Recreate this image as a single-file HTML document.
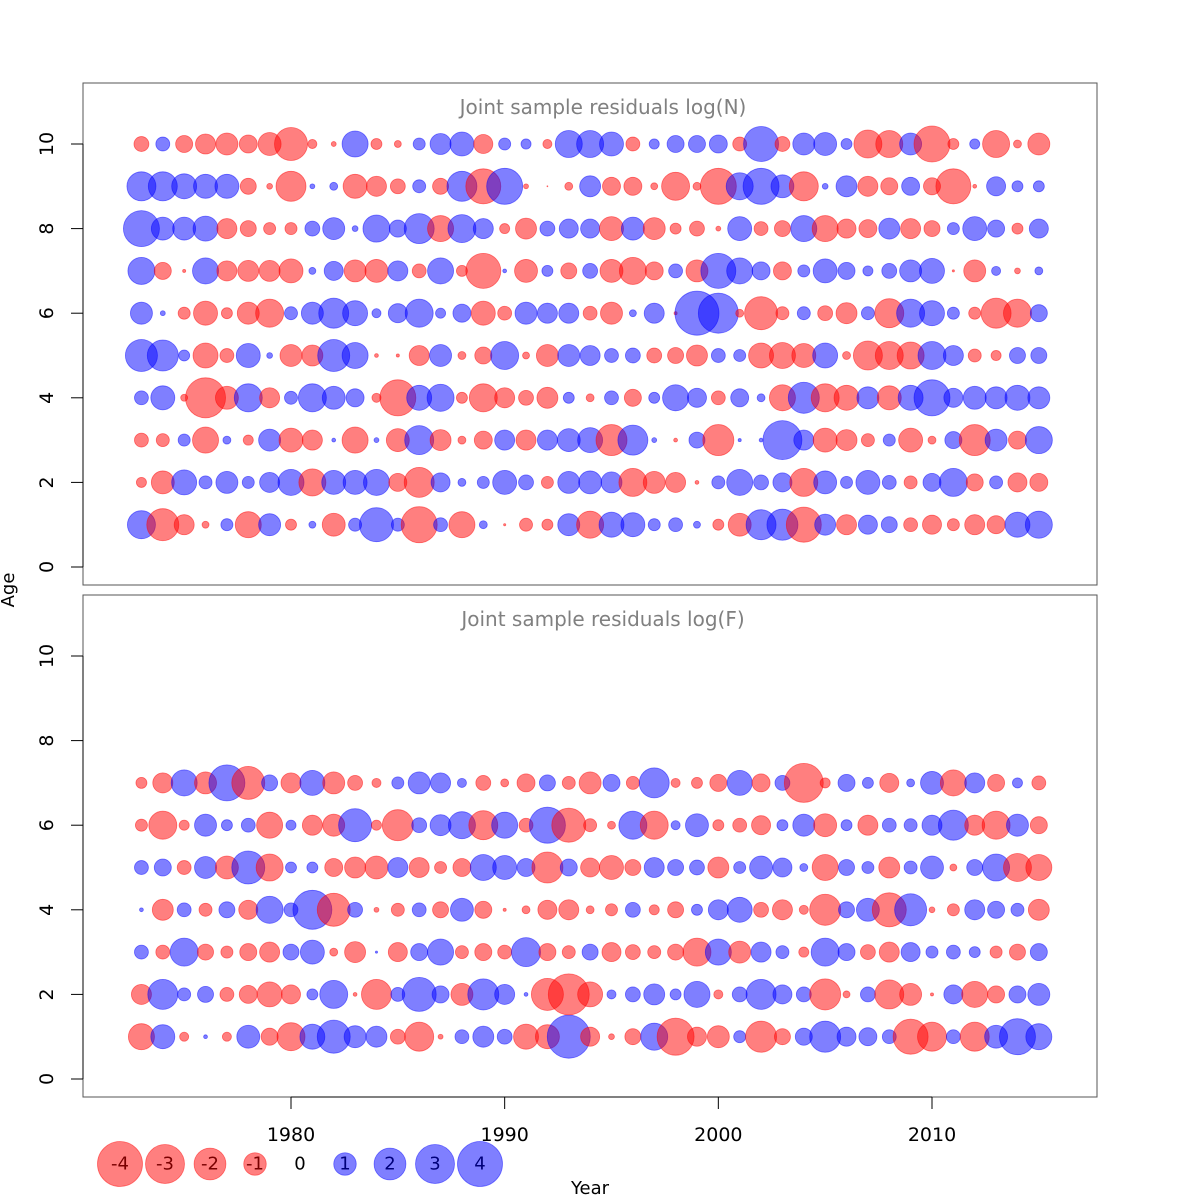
<!DOCTYPE html>
<html><head><meta charset="utf-8">
<style>
html,body{margin:0;padding:0;background:#fff;}
svg{display:block;font-family:"DejaVu Sans","Liberation Sans",sans-serif;}
</style></head>
<body>
<svg id="chart" width="1200" height="1200" viewBox="0 0 1200 1200" xmlns="http://www.w3.org/2000/svg">
  <rect x="0" y="0" width="1200" height="1200" fill="#fff"/>
  <rect x="83" y="83" width="1014" height="502" fill="none" stroke="#555" stroke-width="1"/>
  <rect x="83" y="595" width="1014" height="502" fill="none" stroke="#555" stroke-width="1"/>
  <text x="603" y="114" text-anchor="middle" font-size="20" fill="#808080">Joint sample residuals log(N)</text>
  <text x="603" y="626" text-anchor="middle" font-size="20" fill="#808080">Joint sample residuals log(F)</text>
  <text x="590" y="1194" text-anchor="middle" font-size="18">Year</text>
  <text x="14" y="590" text-anchor="middle" font-size="18" transform="rotate(-90 14 590)">Age</text>
  <g id="marks"></g>
  <g id="axes"></g>
  <g id="legend"></g>
</svg>
<script>
const years = [1973,1974,1975,1976,1977,1978,1979,1980,1981,1982,1983,1984,1985,1986,1987,1988,1989,1990,1991,1992,1993,1994,1995,1996,1997,1998,1999,2000,2001,2002,2003,2004,2005,2006,2007,2008,2009,2010,2011,2012,2013,2014,2015];
const xTicks = [1980,1990,2000,2010];
const yTicks = [0,2,4,6,8,10];
const legendValues = [-4,-3,-2,-1,0,1,2,3,4];

// log(N) residuals, per age (1973..2015)
const nAge1 = [1.62,-2.12,-0.83,-0.10,0.30,-1.40,1.0,-0.25,0.10,-1.09,0.35,2.39,0.35,-2.68,0.40,-1.40,0.13,-0.01,-0.35,-0.25,1.0,-1.51,1.29,1.19,0.30,0.40,0.10,-0.25,-1.09,1.86,1.99,-2.53,0.91,-0.83,0.75,0.53,-0.40,-0.75,-0.30,-0.83,-0.67,1.29,1.51];
const nAge2 = [-0.21,-1.09,1.29,0.35,1.0,0.30,0.83,1.40,-1.51,1.19,1.19,1.40,-0.67,-1.86,0.75,0.13,0.30,1.19,0.46,-0.30,1.0,1.09,0.91,-1.62,-1.0,-0.83,-0.03,0.35,1.40,0.46,0.75,-1.62,1.09,0.30,1.19,0.40,-0.35,0.67,1.62,-0.60,0.35,-0.75,-0.67];
const nAge3 = [-0.40,-0.35,0.30,-1.40,0.13,-0.21,1.0,-1.19,-0.83,0.03,-1.40,0.05,-1.09,1.74,-0.91,-0.13,-0.67,0.83,-0.83,0.83,1.09,1.29,-1.99,1.86,0.05,-0.03,0.53,-1.99,0.02,0.03,3.14,0.83,-1.19,-0.91,-0.35,0.30,-1.19,-0.13,0.60,-1.99,1.0,-0.67,1.51];
const nAge4 = [0.40,1.19,-0.10,-3.31,-1.09,1.62,-0.83,0.35,1.62,1.09,0.67,-0.17,-2.68,1.29,1.51,-0.25,-1.62,-0.83,-0.46,-0.91,0.25,-0.13,0.40,-0.60,0.25,1.40,0.75,-0.40,0.67,0.13,-1.40,1.99,-1.62,-1.29,1.0,-1.19,1.29,2.68,0.75,1.09,1.0,1.29,1.0];
const nAge5 = [2.12,1.99,0.25,-1.29,-0.40,1.19,0.07,-1.0,-0.91,2.12,1.40,-0.03,-0.02,-0.83,1.0,-0.13,-0.60,1.62,-0.10,-1.0,1.0,0.83,0.40,0.46,-0.46,-0.53,-0.91,0.40,0.30,-1.29,-1.40,-1.19,1.29,-0.13,-1.74,-1.62,-1.51,1.62,0.83,-0.35,-0.21,0.53,0.53];
const nAge6 = [1.0,0.05,-0.30,-1.19,-0.25,-1.0,-1.62,0.35,1.0,1.86,1.29,0.17,0.75,1.62,0.21,0.67,-1.19,-0.40,1.0,0.83,0.83,-0.40,-1.0,0.10,0.83,-0.02,4.0,3.31,-0.13,-2.25,-0.35,0.35,-0.46,-0.91,0.35,-1.74,1.62,1.29,0.30,-0.30,-1.86,-1.62,0.60];
const nAge7 = [1.51,-0.60,-0.02,1.40,-0.83,-0.91,-0.91,-1.19,0.10,0.75,-1.0,-1.09,0.83,-0.40,1.40,-0.25,-2.53,0.03,-1.09,0.25,-0.53,0.46,-1.09,-1.51,-0.67,0.40,-1.0,2.53,1.40,0.67,-0.67,0.30,1.19,0.60,0.21,0.46,1.0,1.29,-0.01,-1.0,0.17,-0.07,0.13];
const nAge8 = [2.68,1.09,1.09,1.29,-0.83,-0.53,-0.30,-0.30,0.46,1.0,0.07,1.51,0.60,1.86,-1.40,1.62,0.83,-0.21,-0.91,0.46,0.75,0.75,-1.19,1.09,-1.0,-0.25,-0.46,-0.05,1.19,-0.40,-0.53,1.40,-1.40,-0.75,-0.67,0.91,-0.83,-0.53,0.30,1.19,0.60,-0.25,0.75];
const nAge9 = [1.74,1.74,1.29,1.19,1.19,-0.53,-0.07,-1.86,0.05,0.13,-1.19,-0.83,-0.46,0.35,-0.53,1.86,-2.53,2.68,-0.05,-0.002,-0.13,0.91,-0.67,-0.67,-0.10,-1.62,-0.13,-2.68,1.51,2.68,1.09,-1.74,0.07,0.91,-0.83,-0.60,0.67,-0.60,-2.53,-0.03,0.75,0.25,0.25];
const nAge10 = [-0.46,0.40,-0.60,-0.83,-1.0,-0.67,-1.09,-2.25,-0.17,-0.05,1.40,-0.25,-0.10,0.30,0.91,1.19,-0.75,0.30,0.21,-0.17,1.51,1.51,1.19,-0.40,0.21,0.60,0.60,0.67,-0.40,2.53,-0.46,1.0,1.09,0.25,-1.62,-1.51,1.0,-2.68,-0.25,0.21,-1.51,-0.13,-1.0];

// log(F) residuals, per age (1973..2015)
const fAge1 = [-1.40,1.19,-0.17,0.03,-0.17,1.09,-0.60,-1.62,1.29,2.25,1.0,0.91,-0.46,-1.74,-0.05,0.40,0.91,0.46,-1.29,-1.19,3.82,-0.75,-0.07,-0.53,1.51,-2.83,-0.75,-1.0,0.30,-1.99,-0.53,0.60,1.99,0.75,0.67,0.40,-2.53,-1.74,0.40,-1.74,1.09,2.68,1.40];
const fAge2 = [-0.83,1.86,0.35,0.53,-0.40,-0.67,-1.29,-0.75,0.25,1.62,-0.03,-1.86,0.40,2.39,0.60,-1.0,1.99,0.83,0.03,-2.12,-3.47,-1.29,0.17,0.46,0.91,0.25,1.40,-0.17,0.46,1.86,0.75,0.46,-1.99,-0.10,0.46,-1.74,-1.0,-0.02,0.75,-1.40,-0.60,0.60,1.0];
const fAge3 = [0.40,-0.40,1.62,-0.53,-0.30,-0.60,-0.83,0.53,1.19,-0.13,-0.91,0.01,-0.75,0.60,1.40,-0.35,-0.60,-0.40,1.74,-0.60,-0.35,0.53,-0.75,-0.46,-0.35,-0.53,-1.62,1.40,-1.0,0.83,0.35,-0.21,1.62,0.60,-0.46,-0.83,0.75,0.30,0.40,0.25,-0.30,-0.53,0.60];
const fAge4 = [0.03,-0.91,0.40,-0.35,0.53,-0.75,1.51,0.40,3.14,-2.25,0.46,-0.05,-0.35,0.40,-0.53,1.09,-0.60,-0.02,-0.13,-0.75,-0.83,-0.13,-0.30,0.46,-0.21,-0.53,0.25,0.83,1.29,-0.46,-0.83,-0.17,-1.99,0.53,1.09,-2.39,2.12,-0.07,-0.30,0.83,0.60,0.35,-0.91];
const fAge5 = [0.40,0.60,-0.40,1.0,-1.09,2.25,-1.51,0.25,0.25,-0.67,-0.91,-1.09,0.83,-0.83,-0.30,-0.67,1.40,1.19,0.67,-1.99,0.60,-0.75,-1.19,-0.53,0.83,0.53,0.46,-0.91,0.30,1.09,0.75,0.13,-1.40,0.53,0.30,-0.91,0.35,1.09,-0.10,0.53,1.51,-1.62,-1.40];
const fAge6 = [-0.30,-1.62,-0.21,1.0,0.25,0.40,-1.40,0.21,-0.83,-1.0,2.25,-0.21,-1.99,0.46,0.91,1.51,-1.74,1.40,-0.40,2.68,-2.39,-0.35,-0.13,1.62,-1.62,0.17,1.09,-0.25,-0.40,-0.75,0.25,1.0,-1.09,0.25,-0.83,0.40,0.35,0.83,1.86,-0.83,-1.62,1.0,-0.60];
const fAge7 = [-0.25,-0.83,1.40,-1.0,2.68,-2.25,0.53,-0.83,1.29,-1.0,-0.46,-0.17,0.30,1.0,0.83,0.17,-0.46,-0.13,-0.67,0.53,-0.35,-1.0,0.60,-0.35,1.86,-0.17,-0.25,-0.60,1.29,-0.67,0.46,-3.14,-0.21,0.60,0.25,-0.75,0.13,1.09,-1.40,0.83,-0.60,0.21,-0.40];

const nRows = [nAge1,nAge2,nAge3,nAge4,nAge5,nAge6,nAge7,nAge8,nAge9,nAge10];
const fRows = [fAge1,fAge2,fAge3,fAge4,fAge5,fAge6,fAge7];

const NS = "http://www.w3.org/2000/svg";
function xScale(yr){ return 291 + (yr - 1980) * (641 / 30); }
function yScaleTop(a){ return 567 - a * 42.3; }
function yScaleBottom(a){ return 1079 - a * 42.3; }
function rScale(v){ return 11 * Math.sqrt(Math.abs(v)); }
function mk(tag, attrs, parent){
  const e = document.createElementNS(NS, tag);
  for (const k in attrs) e.setAttribute(k, attrs[k]);
  parent.appendChild(e);
  return e;
}
const marks = document.getElementById('marks');
function drawPanel(rows, yScale, prefix){
  rows.forEach((vals, i) => {
    const age = i + 1;
    vals.forEach((v, j) => {
      const col = v < 0 ? 'rgba(255,0,0,0.5)' : 'rgba(0,0,255,0.5)';
      const c = mk('circle', {cx: xScale(years[j]).toFixed(2), cy: yScale(age).toFixed(2), r: rScale(v).toFixed(2), fill: col, stroke: col, 'stroke-width': 0.8}, marks);
      
      
    });
  });
}
drawPanel(nRows, yScaleTop, 'logn');
drawPanel(fRows, yScaleBottom, 'logf');

const axes = document.getElementById('axes');
const xl = mk('line', {x1: xScale(xTicks[0]), x2: xScale(xTicks[xTicks.length-1]), y1: 1097, y2: 1097, stroke: '#000', 'stroke-width': 1}, axes);


xTicks.forEach(t => {
  const x = xScale(t);
  const tk = mk('line', {x1: x, x2: x, y1: 1097, y2: 1109, stroke: '#000', 'stroke-width': 1}, axes);
  
  
  const lb = mk('text', {x: x, y: 1141, 'text-anchor': 'middle', 'font-size': 19}, axes);
  lb.textContent = t;
  
  
});
[[yScaleTop, 'top'], [yScaleBottom, 'bottom']].forEach(([ys, nm]) => {
  const al = mk('line', {x1: 83, x2: 83, y1: ys(0), y2: ys(10), stroke: '#000', 'stroke-width': 1}, axes);
  
  
  yTicks.forEach(t => {
    const y = ys(t);
    const tk = mk('line', {x1: 71, x2: 83, y1: y, y2: y, stroke: '#000', 'stroke-width': 1}, axes);
    
    
    const lb = mk('text', {x: 47, y: y, 'text-anchor': 'middle', 'dominant-baseline': 'central', 'font-size': 19, transform: 'rotate(-90 47 ' + y + ')'}, axes);
    lb.textContent = t;
    
    
  });
});
const legend = document.getElementById('legend');
legendValues.forEach((v, i) => {
  const x = 120 + i * 45, y = 1164;
  if (v !== 0) {
    const col = v < 0 ? 'rgba(255,0,0,0.5)' : 'rgba(0,0,255,0.5)';
    const c = mk('circle', {cx: x, cy: y, r: 11.25 * Math.sqrt(Math.abs(v)), fill: col, stroke: col, 'stroke-width': 0.8}, legend);
    
    
  }
  const t = mk('text', {x: x, y: y, 'text-anchor': 'middle', 'dominant-baseline': 'central', 'font-size': 18, fill: v < 0 ? '#7a0000' : (v > 0 ? '#00007a' : '#000')}, legend);
  t.textContent = v;
  
  
});
</script>
</body></html>
